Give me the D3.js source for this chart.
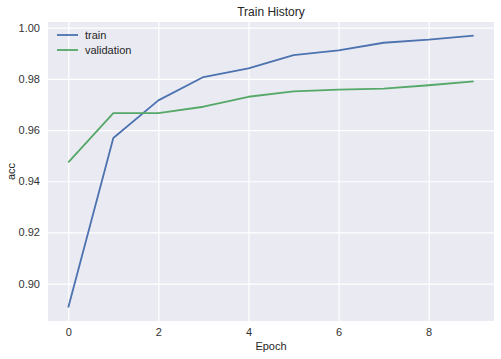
<!DOCTYPE html>
<html>
<head>
<meta charset="utf-8">
<script src="https://cdn.jsdelivr.net/npm/d3@7"></script>
<style>
  body { margin: 0; background: #fff; }
  svg { display: block; font-family: "Liberation Sans", Arial, sans-serif; }
</style>
</head>
<body>
<div class="canvas"></div>
<script>
// data
const epochs = [0, 1, 2, 3, 4, 5, 6, 7, 8, 9]
const trainAcc = [0.8907, 0.9569, 0.9716, 0.9807, 0.9841, 0.9893, 0.9911, 0.9941, 0.9953, 0.9969]
const valAcc = [0.9474, 0.9666, 0.9666, 0.9691, 0.9730, 0.9751, 0.9758, 0.9762, 0.9775, 0.9790]
const xTicks = [0, 2, 4, 6, 8]
const yTicks = [0.90, 0.92, 0.94, 0.96, 0.98, 1.00]
const seriesNames = ['train', 'validation']

// 1 - dimensions
const dims = { width: 501, height: 359 }
const plot = { left: 48, top: 22, right: 494, bottom: 321 }

const svg = d3.select('.canvas')
    .append('svg')
    .attr('width', dims.width)
    .attr('height', dims.height)

// 2 - scales (matplotlib style 5% margins)
const allY = trainAcc.concat(valAcc)
const yMin = d3.min(allY), yMax = d3.max(allY)
const yPad = (yMax - yMin) * 0.05
const x = d3.scaleLinear().domain([-0.45, 9.45]).range([plot.left, plot.right])
const y = d3.scaleLinear().domain([yMin - yPad, yMax + yPad]).range([plot.bottom, plot.top])

const color = d3.scaleOrdinal().domain(seriesNames).range(['#4C72B0', '#55A868'])

// background
svg.append('rect')
    .attr('x', plot.left)
    .attr('y', plot.top)
    .attr('width', plot.right - plot.left)
    .attr('height', plot.bottom - plot.top)
    .attr('fill', '#EAEAF2')

// 3 - axes with grid lines
const xAxis = svg.append('g')
    .attr('transform', `translate(0, ${plot.bottom})`)
    .call(d3.axisBottom(x).tickValues(xTicks).tickSize(-(plot.bottom - plot.top)).tickPadding(7).tickFormat(d3.format('d')))
const yAxis = svg.append('g')
    .attr('transform', `translate(${plot.left}, 0)`)
    .call(d3.axisLeft(y).tickValues(yTicks).tickSize(-(plot.right - plot.left)).tickPadding(8).tickFormat(d3.format('.2f')))

;[xAxis, yAxis].forEach(ax => {
    ax.select('.domain').remove()
    ax.selectAll('line').attr('stroke', '#fff').attr('stroke-width', 1.2)
    ax.selectAll('text')
        .attr('fill', '#333')
        .style('font-size', '11px')
        .style('font-family', '"Liberation Sans", Arial, sans-serif')
})

// 4 - lines
const line = d3.line()
    .x((d, i) => x(epochs[i]))
    .y(d => y(d))

const series = [trainAcc, valAcc]
series.forEach((vals, k) => {
    svg.append('path')
        .datum(vals)
        .attr('d', line)
        .attr('fill', 'none')
        .attr('stroke', color(seriesNames[k]))
        .attr('stroke-width', 1.8)
        .attr('stroke-linejoin', 'round')
})

// 5 - title and labels
svg.append('text')
    .attr('x', (plot.left + plot.right) / 2)
    .attr('y', 16)
    .attr('text-anchor', 'middle')
    .attr('fill', '#262626')
    .style('font-size', '12px')
    .text('Train History')

svg.append('text')
    .attr('x', (plot.left + plot.right) / 2)
    .attr('y', 350)
    .attr('text-anchor', 'middle')
    .attr('fill', '#262626')
    .style('font-size', '11px')
    .text('Epoch')

svg.append('text')
    .attr('transform', `translate(15, ${(plot.top + plot.bottom) / 2}) rotate(-90)`)
    .attr('text-anchor', 'middle')
    .attr('fill', '#262626')
    .style('font-size', '11px')
    .text('acc')

// 6 - legend
const legend = svg.append('g')
    .attr('transform', `translate(57, 35)`)

seriesNames.forEach((name, i) => {
    const row = legend.append('g').attr('transform', `translate(0, ${i * 15})`)
    row.append('line')
        .attr('x1', 0).attr('x2', 21)
        .attr('stroke', color(name))
        .attr('stroke-width', 1.8)
    row.append('text')
        .attr('x', 28)
        .attr('y', 4)
        .attr('fill', '#262626')
        .style('font-size', '11px')
        .text(name)
})
</script>
</body>
</html>
